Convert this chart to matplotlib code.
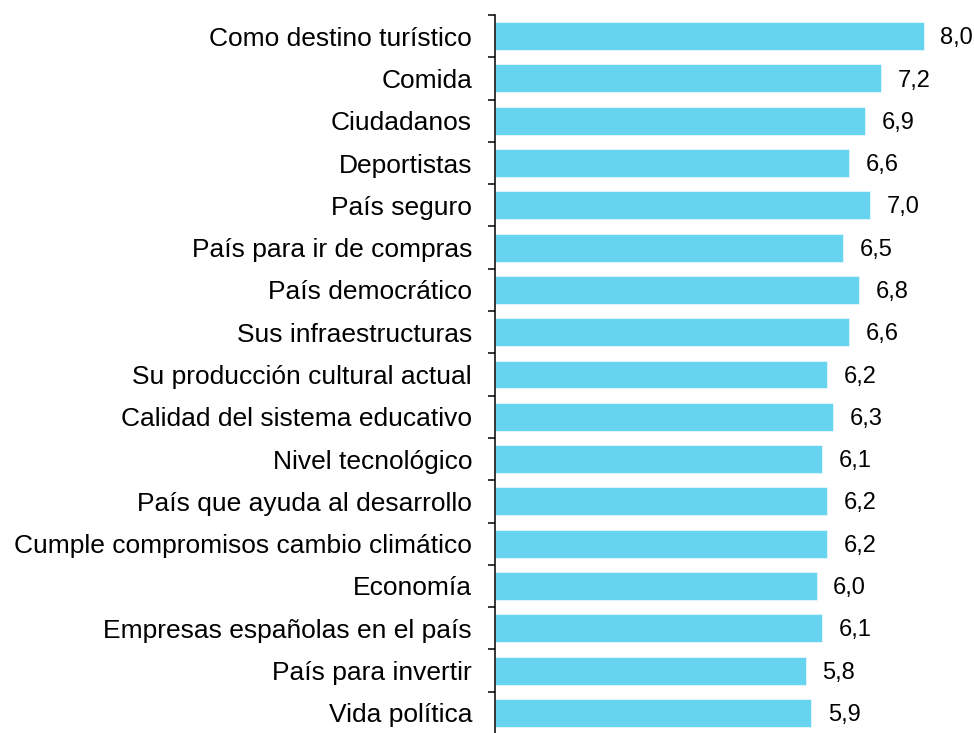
import matplotlib
matplotlib.use("Agg")
import matplotlib.pyplot as plt
import numpy as np

categories = ["Como destino turístico", "Comida", "Ciudadanos", "Deportistas",
              "País seguro", "País para ir de compras", "País democrático",
              "Sus infraestructuras", "Su producción cultural actual",
              "Calidad del sistema educativo", "Nivel tecnológico",
              "País que ayuda al desarrollo", "Cumple compromisos cambio climático",
              "Economía", "Empresas españolas en el país", "País para invertir",
              "Vida política"]
values = [8.0, 7.2, 6.9, 6.6, 7.0, 6.5, 6.8, 6.6, 6.2, 6.3, 6.1, 6.2, 6.2, 6.0, 6.1, 5.8, 5.9]

plt.rcParams['font.family'] = ['Liberation Sans', 'DejaVu Sans']

W, H = 974, 733
fig = plt.figure(figsize=(W/100, H/100), dpi=100)
left_px, top_px, bot_px = 495, 15, 734
ax = fig.add_axes([left_px/W, (H-bot_px)/H, (W-left_px)/W, (bot_px-top_px)/H])

n = len(categories)
y = np.arange(n)
ax.barh(y, values, height=0.66, color='#66D4EE', edgecolor='#E6F7FC', linewidth=0.6, left=0.0)
ax.set_ylim(n-0.5, -0.5)
ax.set_xlim(0, (W-left_px)/53.6)

for yi, v in zip(y, values):
    ax.text(v + 0.31, yi + 0.05, f"{v:.1f}".replace('.', ','), va='center', ha='left', fontsize=17)

ax.set_yticks(y)
ax.set_yticklabels(categories, fontsize=19)
ax.tick_params(axis='y', which='major', length=0, pad=16.5)
ax.set_yticks(np.arange(-0.5, n, 1.0), minor=True)
ax.tick_params(axis='y', which='minor', length=5, width=1.1, color='black')
ax.set_xticks([])
for s in ['top', 'right', 'bottom']:
    ax.spines[s].set_visible(False)
ax.spines['left'].set_linewidth(1.1)

fig.savefig('out.png', dpi=100)
